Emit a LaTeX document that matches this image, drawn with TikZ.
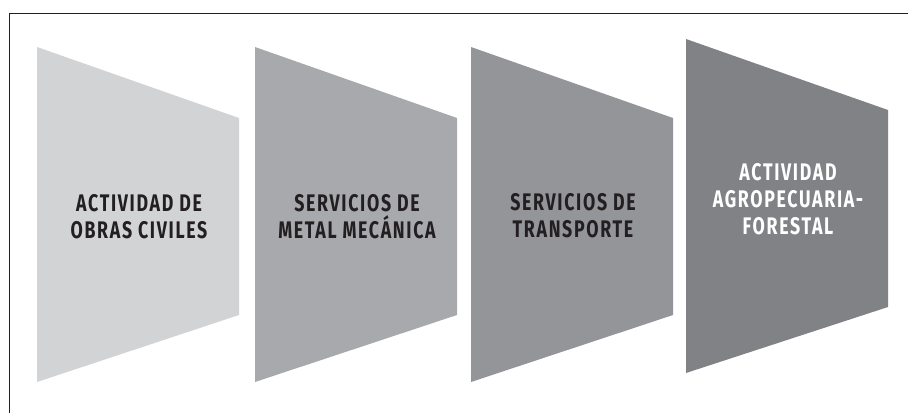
\documentclass[tikz,border=0pt]{standalone}
\usepackage{fontspec}
\setmainfont{Fira Sans}[FakeStretch=0.74, LetterSpace=7]

\definecolor{marco}{HTML}{231F20}
\definecolor{grisA}{HTML}{D1D3D4}
\definecolor{grisB}{HTML}{A7A9AC}
\definecolor{grisC}{HTML}{939598}
\definecolor{grisD}{HTML}{808285}

\begin{document}
\begin{tikzpicture}[x=1pt, y=-1pt,
    panel text/.style={font=\bfseries\fontsize{24}{27}\selectfont, align=center, text=marco}]

        \useasboundingbox (0,0) rectangle (908,413);

        % the frame, open to the right and at the bottom
        \draw[line width=1pt, marco] (9,413) -- (9,13) -- (908,13);

        % the three panels of the same height
        \foreach \x/\c in {37/grisA, 255/grisB, 471/grisC}
        \fill[\c] (\x,47) -- ++(202,71) -- ++(0,197) -- ++(-202,67) -- cycle;

        % the last panel, a bit higher
        \fill[grisD] (686,39) -- ++(202,71) -- ++(0,197) -- ++(-202,66) -- cycle;

        % The labels in the panels
        \node[panel text] (obras) at (139,217) {ACTIVIDAD DE\\OBRAS CIVILES};
        \node[panel text] (metal) at (357,217) {SERVICIOS DE\\METAL MEC\'ANICA};
        \node[panel text] (transporte) at (573,216) {SERVICIOS DE\\TRANSPORTE};
        \node[panel text, text=white] (agro) at (788,199) {ACTIVIDAD\\AGROPECUARIA-\\FORESTAL};
    \end{tikzpicture}
\end{document}
